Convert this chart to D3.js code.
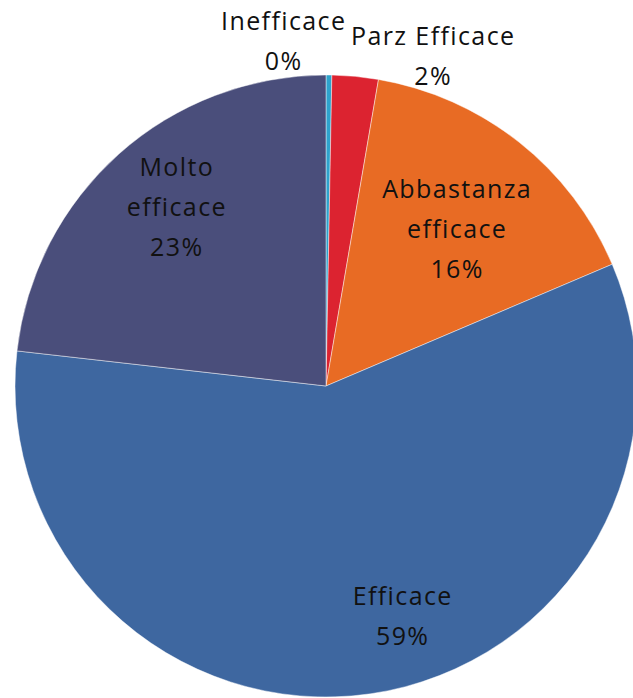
<!DOCTYPE html>
<html>
<head>
<meta charset="utf-8">
<script src="https://cdn.jsdelivr.net/npm/d3@7"></script>
<style>
  html, body { margin: 0; padding: 0; background: #fff; }
  svg text { font-family: "Open Sans", "Noto Sans", sans-serif; fill: #111; letter-spacing: 1.4px; }
</style>
</head>
<body>
<div id="chart"></div>
<script>
// data (percent shares, clockwise from 12 o'clock)
const categories = ["Inefficace", "Parz Efficace", "Abbastanza efficace", "Efficace", "Molto efficace"];
const values = [0.3, 2.4, 15.9, 58.2, 23.2];
const pctLabels = ["0%", "2%", "16%", "59%", "23%"];
const colors = ["#2ea3cc", "#dc2330", "#e86b24", "#3e67a0", "#4a4e7b"];

// label lines and placement (angle in degrees from top, distance from centre)
const labelLines = [["Inefficace"], ["Parz Efficace"], ["Abbastanza", "efficace"], ["Efficace"], ["Molto", "efficace"]];
const labelPlace = [[353.0, 347], [18.0, 347], [40.0, 204], [161.6, 243], [320.2, 233]];

const W = 633, H = 698;
const cx = 326, cy = 386, radius = 311;

const svg = d3.select("#chart")
  .append("svg")
  .attr("width", W)
  .attr("height", H);

const g = svg.append("g")
  .attr("transform", "translate(" + cx + "," + cy + ")");

const pie = d3.pie().sort(null).value(function (d) { return d; });
const arc = d3.arc().innerRadius(0).outerRadius(radius);

const arcs = pie(values);

g.selectAll("path")
  .data(arcs)
  .enter()
  .append("path")
  .attr("d", arc)
  .attr("fill", function (d, i) { return colors[i]; })
  .attr("stroke", "rgba(255,255,255,0.45)")
  .attr("stroke-width", 1);

//labels: name lines + percent line
const lineH = 40;
const labels = g.selectAll("text.lbl")
  .data(arcs)
  .enter()
  .append("text")
  .attr("class", "lbl")
  .attr("text-anchor", "middle")
  .attr("font-size", "25px")
  .attr("transform", function (d, i) {
    const a = labelPlace[i][0] * Math.PI / 180, r = labelPlace[i][1];
    return "translate(" + (r * Math.sin(a)) + "," + (-r * Math.cos(a)) + ")";
  });

labels.each(function (d, i) {
  const lines = labelLines[i].concat([pctLabels[i]]);
  const t = d3.select(this);
  const y0 = -(lines.length - 1) * lineH / 2;
  lines.forEach(function (s, k) {
    t.append("tspan")
      .attr("x", 0)
      .attr("y", y0 + k * lineH)
      .attr("dy", "0.35em")
      .text(s);
  });
});
</script>
</body>
</html>
